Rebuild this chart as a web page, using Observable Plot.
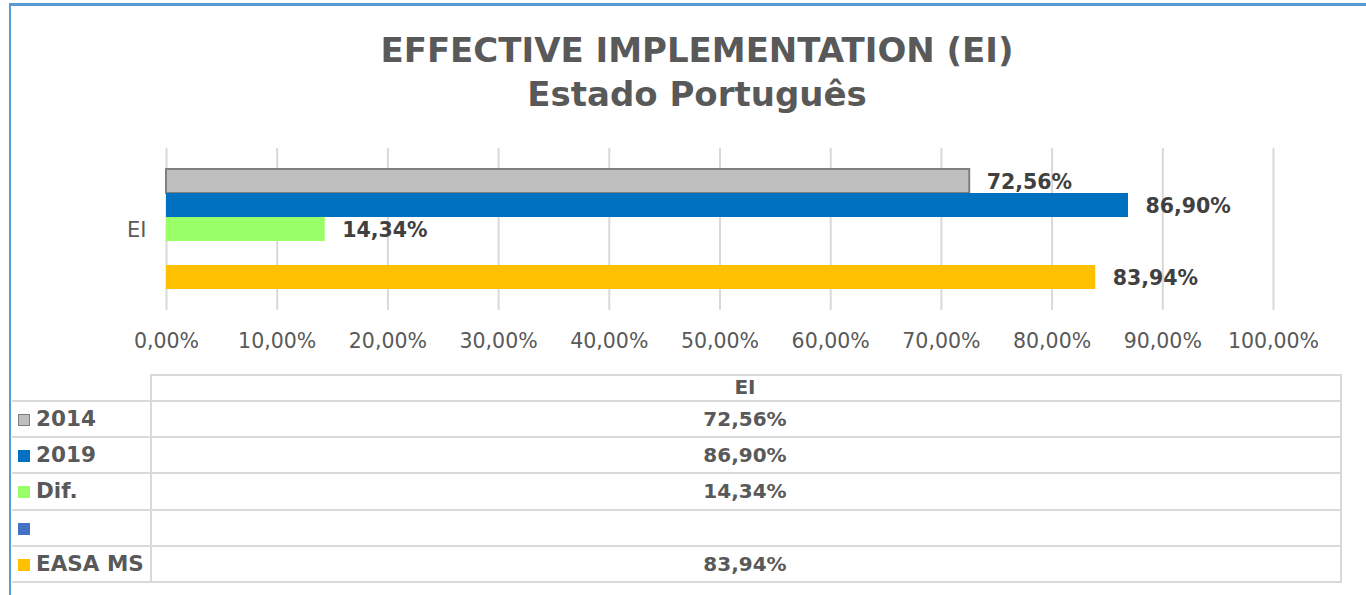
<!DOCTYPE html>
<html>
<head>
<meta charset="utf-8">
<script src="https://cdn.jsdelivr.net/npm/d3@7"></script>
<script src="https://cdn.jsdelivr.net/npm/@observablehq/plot@0.6"></script>
<style>
  html, body { margin: 0; padding: 0; background: #fff; }
  #wrap { position: relative; width: 1366px; height: 595px; overflow: hidden; font-family: "DejaVu Sans", sans-serif; }
  .frameTop { position: absolute; left: 9px; top: 3px; width: 1357px; height: 3px; background: #5b9bd5; }
  .frameLeft { position: absolute; left: 9px; top: 3px; width: 2px; height: 592px; background: #5b9bd5; }
  #title { position: absolute; left: 0; top: 28px; width: 1394px; text-align: center; color: #595959; font-weight: bold; font-size: 34px; line-height: 44px; }
  #chart { position: absolute; left: 0; top: 0; }
  .cell { position: absolute; box-sizing: border-box; color: #595959; font-weight: bold; font-size: 20px; }
  .lab { font-size: 21.5px; }
  .hl { position: absolute; background: #d9d9d9; }
  .sw { display: inline-block; width: 12px; height: 12px; box-sizing: border-box; margin-right: 6px; vertical-align: 0px; }
</style>
</head>
<body>
<div id="wrap">
  <div id="title">EFFECTIVE IMPLEMENTATION (EI)<br>Estado Português</div>
  <div id="chart"></div>
  <div id="table"></div>
  <div class="frameTop"></div>
  <div class="frameLeft"></div>
</div>
<script>
// ---- data ----
const categories = ["EI"];
const seriesNames = ["2014", "2019", "Dif.", " ", "EASA MS"];
const seriesValues = [0.7256, 0.8690, 0.1434, null, 0.8394];
const seriesColors = ["#bfbfbf", "#0070c0", "#99ff66", "#4472c4", "#ffc000"];
const xTicks = [0, 0.1, 0.2, 0.3, 0.4, 0.5, 0.6, 0.7, 0.8, 0.9, 1.0];

const fmt = v => (v * 100).toFixed(2).replace(".", ",") + "%";

const rows = seriesNames.map((s, i) => ({series: s, category: categories[0], value: seriesValues[i], color: seriesColors[i]}));
const barRows = rows.filter(d => d.value != null);

const chart = Plot.plot({
  width: 1366,
  height: 370,
  marginTop: 148,
  marginBottom: 60,
  marginLeft: 166,
  marginRight: 93,
  style: {fontFamily: "DejaVu Sans, sans-serif", color: "#595959", background: "transparent"},
  x: {domain: [0, 1], ticks: xTicks, tickFormat: fmt, tickSize: 0, tickPadding: 22, label: null},
  y: {domain: seriesNames, paddingInner: 0, paddingOuter: 0.82, axis: null},
  marks: [
    Plot.ruleX(xTicks, {stroke: "#d9d9d9", strokeWidth: 2}),
    Plot.barX(barRows, {x: "value", y: "series", fill: "color",
      stroke: d => d.series === "2014" ? "#7f7f7f" : "none", strokeWidth: 2}),
    Plot.text(barRows, {x: "value", y: "series", text: d => fmt(d.value), textAnchor: "start", dx: 17, dy: 1,
      fontWeight: "bold", fontSize: 20.5, fill: "#404040"}),
    Plot.text(categories, {frameAnchor: "left", dx: -20, dy: 1, text: d => d, textAnchor: "end", fontSize: 21, fill: "#595959"}),
    Plot.axisX({ticks: xTicks, tickFormat: fmt, tickSize: 0, tickPadding: 23, fontSize: 20.5, fill: "#595959"})
  ]
});
document.getElementById("chart").appendChild(chart);

// ---- data table ----
const table = document.getElementById("table");
const L = 10, C = 150, R = 1340, headTop = 374, headBottom = 400, rowH = 36.2;
function add(el) { table.appendChild(el); return el; }
function line(x, y, w, h) { const d = document.createElement("div"); d.className = "hl"; Object.assign(d.style, {left: x + "px", top: y + "px", width: w + "px", height: h + "px"}); add(d); }
// header
const hc = document.createElement("div"); hc.className = "cell";
Object.assign(hc.style, {left: C + "px", top: headTop + "px", width: (R - C) + "px", height: (headBottom - headTop) + "px", textAlign: "center", lineHeight: (headBottom - headTop) + "px"});
hc.textContent = categories[0]; add(hc);
line(C, headTop, R - C + 2, 2);
const bottom = headBottom + rowH * seriesNames.length;
line(C, headTop, 2, bottom - headTop + 2);
line(R, headTop, 2, bottom - headTop + 2);
seriesNames.forEach((s, i) => {
  const y = headBottom + rowH * i;
  line(L + 2, y, R - L, 2);
  const lc = document.createElement("div"); lc.className = "cell lab";
  Object.assign(lc.style, {left: (L + 8) + "px", top: y + "px", width: (C - L - 8) + "px", height: rowH + "px", lineHeight: (rowH + 2) + "px", whiteSpace: "nowrap"});
  const sw = document.createElement("span"); sw.className = "sw"; sw.style.background = seriesColors[i];
  if (s === "2014") sw.style.border = "1.5px solid #7f7f7f";
  lc.appendChild(sw);
  lc.appendChild(document.createTextNode(s.trim()));
  add(lc);
  const vc = document.createElement("div"); vc.className = "cell";
  Object.assign(vc.style, {left: C + "px", top: y + "px", width: (R - C) + "px", height: rowH + "px", lineHeight: (rowH + 2) + "px", textAlign: "center"});
  vc.textContent = seriesValues[i] == null ? "" : fmt(seriesValues[i]);
  add(vc);
});
line(L + 2, bottom, R - L, 2);
</script>
</body>
</html>
